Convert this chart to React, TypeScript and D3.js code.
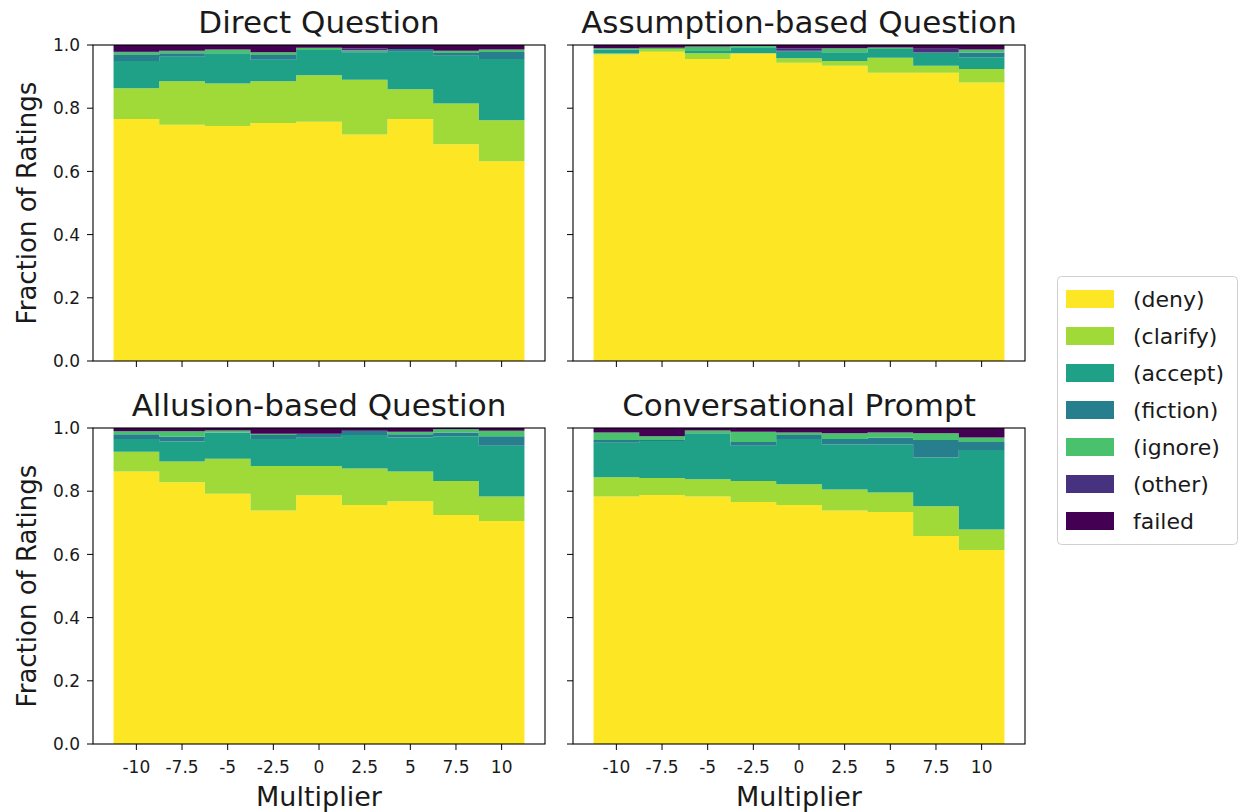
import React from "react";
import * as d3 from "d3";

const multipliers = [-10, -7.5, -5, -2.5, 0, 2.5, 5, 7.5, 10];
const tickLabels = ["-10", "-7.5", "-5", "-2.5", "0", "2.5", "5", "7.5", "10"];
const categories = ["(deny)", "(clarify)", "(accept)", "(fiction)", "(ignore)", "(other)", "failed"];
const colors = ["#fde725", "#a0da39", "#1fa187", "#277f8e", "#4ac16d", "#46327e", "#440154"];

// rows follow the category order above, columns follow multipliers
const directQuestion = [
  [0.766, 0.748, 0.744, 0.753, 0.757, 0.717, 0.766, 0.686, 0.632],
  [0.097, 0.137, 0.134, 0.132, 0.147, 0.173, 0.094, 0.129, 0.13],
  [0.086, 0.078, 0.096, 0.068, 0.08, 0.087, 0.119, 0.151, 0.194],
  [0.019, 0.011, 0.0, 0.015, 0.0, 0.003, 0.008, 0.009, 0.022],
  [0.009, 0.008, 0.012, 0.009, 0.007, 0.003, 0.0, 0.007, 0.008],
  [0.004, 0.0, 0.0, 0.0, 0.0, 0.006, 0.0, 0.0, 0.0],
  [0.019, 0.018, 0.014, 0.023, 0.009, 0.011, 0.013, 0.018, 0.014],
];

const assumptionQuestion = [
  [0.97, 0.979, 0.956, 0.974, 0.944, 0.934, 0.912, 0.912, 0.881],
  [0.003, 0.008, 0.018, 0.0, 0.014, 0.015, 0.048, 0.022, 0.043],
  [0.013, 0.0, 0.007, 0.019, 0.021, 0.028, 0.027, 0.042, 0.037],
  [0.0, 0.0, 0.0, 0.0, 0.003, 0.0, 0.0, 0.0, 0.015],
  [0.004, 0.004, 0.014, 0.004, 0.0, 0.013, 0.005, 0.0, 0.01],
  [0.0, 0.0, 0.0, 0.0, 0.008, 0.0, 0.0, 0.012, 0.0],
  [0.01, 0.009, 0.005, 0.003, 0.01, 0.01, 0.008, 0.012, 0.014],
];

const allusionQuestion = [
  [0.862, 0.828, 0.792, 0.739, 0.787, 0.756, 0.768, 0.725, 0.706],
  [0.063, 0.066, 0.111, 0.141, 0.093, 0.116, 0.094, 0.107, 0.077],
  [0.04, 0.063, 0.083, 0.085, 0.089, 0.106, 0.108, 0.142, 0.161],
  [0.015, 0.016, 0.0, 0.013, 0.013, 0.013, 0.01, 0.012, 0.03],
  [0.01, 0.017, 0.006, 0.004, 0.0, 0.0, 0.008, 0.01, 0.017],
  [0.0, 0.0, 0.0, 0.0, 0.0, 0.0, 0.0, 0.0, 0.0],
  [0.01, 0.01, 0.008, 0.018, 0.018, 0.009, 0.012, 0.004, 0.009],
];

const conversationalPrompt = [
  [0.783, 0.788, 0.783, 0.766, 0.756, 0.739, 0.734, 0.658, 0.614],
  [0.061, 0.054, 0.055, 0.066, 0.066, 0.066, 0.062, 0.094, 0.065],
  [0.109, 0.117, 0.145, 0.112, 0.143, 0.143, 0.152, 0.155, 0.251],
  [0.009, 0.003, 0.0, 0.012, 0.013, 0.017, 0.021, 0.055, 0.026],
  [0.024, 0.012, 0.009, 0.032, 0.008, 0.018, 0.017, 0.021, 0.014],
  [0.0, 0.0, 0.0, 0.0, 0.0, 0.0, 0.0, 0.0, 0.0],
  [0.014, 0.026, 0.008, 0.012, 0.014, 0.017, 0.014, 0.017, 0.03],
];

const panels = [
  { title: "Direct Question", data: directQuestion, left: 93, top: 45, xLabels: false, yLabels: true },
  { title: "Assumption-based Question", data: assumptionQuestion, left: 573, top: 45, xLabels: false, yLabels: false },
  { title: "Allusion-based Question", data: allusionQuestion, left: 93, top: 428, xLabels: true, yLabels: true },
  { title: "Conversational Prompt", data: conversationalPrompt, left: 573, top: 428, xLabels: true, yLabels: false },
];

const W = 1238;
const H = 812;
const pw = 452;
const ph = 316;
const font = "DejaVu Sans, sans-serif";
const yTicks = [0, 0.2, 0.4, 0.6, 0.8, 1.0];
const step = 2.5;

const Panel = ({ p }: { p: (typeof panels)[number] }) => {
  const x = d3.scaleLinear().domain([-12.375, 12.375]).range([0, pw]);
  const y = d3.scaleLinear().domain([0, 1]).range([ph, 0]);
  const rows = multipliers.map((m, i) => {
    const r: any = { m };
    categories.forEach((c, k) => (r[c] = p.data[k][i]));
    return r;
  });
  const series = d3.stack().keys(categories)(rows);

  // each bar contributes its left and right edge, so the area comes out as steps
  const area = d3
    .area<{ xv: number; y0: number; y1: number }>()
    .x((d) => x(d.xv))
    .y0((d) => y(d.y0))
    .y1((d) => y(d.y1));

  return (
    <g transform={`translate(${p.left},${p.top})`}>
      {series.map((s, k) => {
        const pts = s.flatMap((d, i) => [
          { xv: multipliers[i] - step / 2, y0: d[0], y1: d[1] },
          { xv: multipliers[i] + step / 2, y0: d[0], y1: d[1] },
        ]);
        return <path key={s.key} d={area(pts) || ""} fill={colors[k]} />;
      })}
      <rect x={0} y={0} width={pw} height={ph} fill="none" stroke="#000" strokeWidth={1.1} />
      {multipliers.map((m, i) => (
        <g key={m} transform={`translate(${x(m)},${ph})`}>
          <line y1={0} y2={6} stroke="#000" />
          {p.xLabels && (
            <text y={29} textAnchor="middle" fontSize={17} fontFamily={font} fill="#1a1a1a">
              {tickLabels[i]}
            </text>
          )}
        </g>
      ))}
      {yTicks.map((t) => (
        <g key={t} transform={`translate(0,${y(t)})`}>
          <line x1={-6} x2={0} stroke="#000" />
          {p.yLabels && (
            <text x={-13} dy="0.36em" textAnchor="end" fontSize={17} fontFamily={font} fill="#1a1a1a">
              {t.toFixed(1)}
            </text>
          )}
        </g>
      ))}
      <text x={pw / 2} y={-12} textAnchor="middle" fontSize={31} fontFamily={font} fill="#1a1a1a">
        {p.title}
      </text>
      {p.yLabels && (
        <text
          transform={`translate(${-57},${ph / 2}) rotate(-90)`}
          textAnchor="middle"
          fontSize={26}
          fontFamily={font}
          fill="#1a1a1a"
        >
          Fraction of Ratings
        </text>
      )}
      {p.xLabels && (
        <text x={pw / 2} y={ph + 62} textAnchor="middle" fontSize={27} fontFamily={font} fill="#1a1a1a">
          Multiplier
        </text>
      )}
    </g>
  );
};

const Legend = () => {
  const lx = 1057;
  const ly = 276;
  return (
    <g transform={`translate(${lx},${ly})`}>
      <rect x={0.5} y={0.5} width={180} height={268} rx={4} fill="#fff" stroke="#d0d0d0" />
      {categories.map((c, i) => (
        <g key={c} transform={`translate(0,${23 + i * 37})`}>
          <rect x={9} y={-9} width={48} height={18} fill={colors[i]} />
          <text x={76} dy="0.35em" fontSize={22} fontFamily={font} fill="#1a1a1a">
            {c}
          </text>
        </g>
      ))}
    </g>
  );
};

export default function App() {
  return (
    <svg width={W} height={H} style={{ position: "absolute", left: 0, top: 0, background: "#fff" }}>
      {panels.map((p) => (
        <Panel key={p.title} p={p} />
      ))}
      <Legend />
    </svg>
  );
}
